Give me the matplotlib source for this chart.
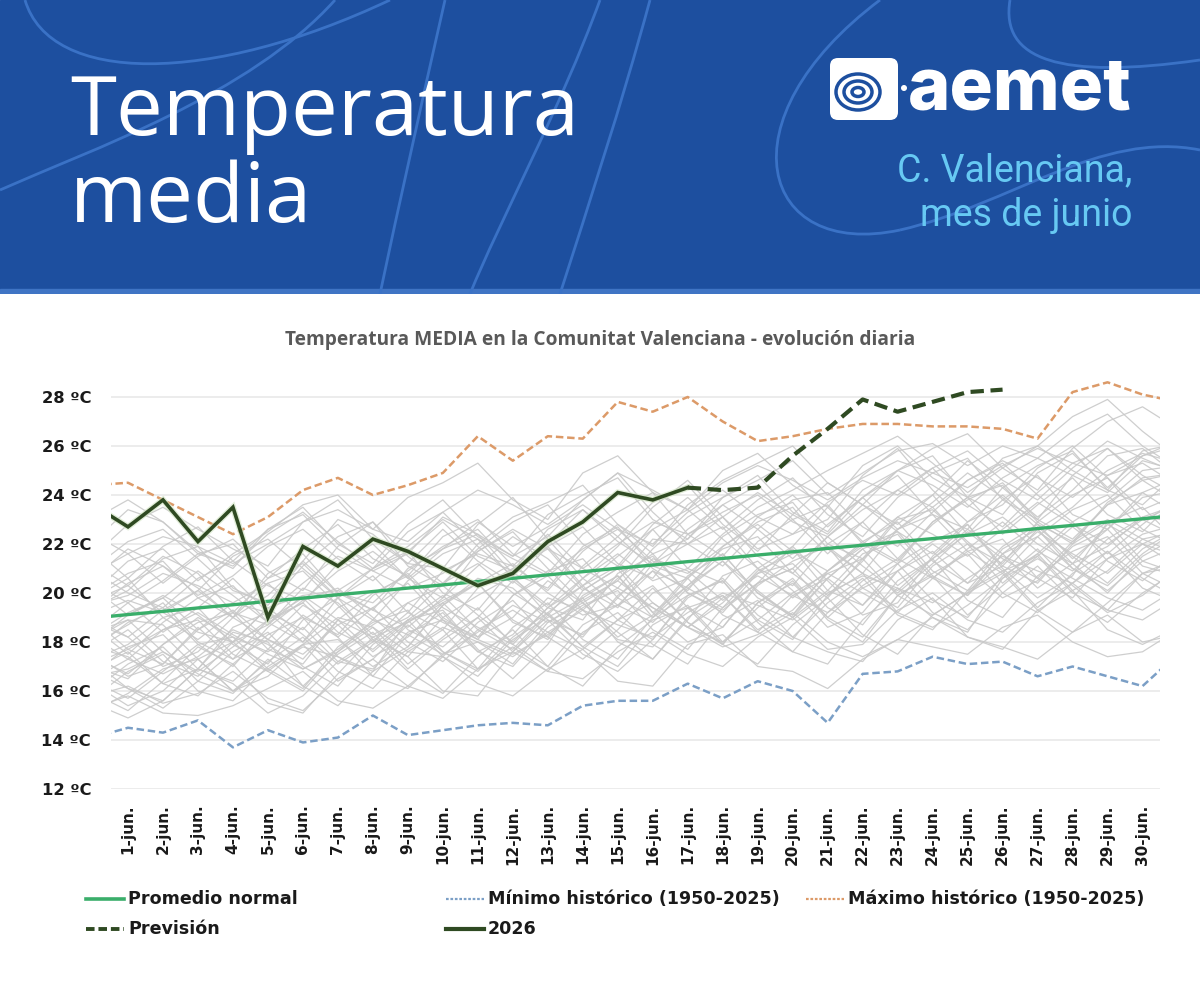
import matplotlib
matplotlib.use("Agg")
import matplotlib.pyplot as plt
from matplotlib.path import Path
from matplotlib.patches import PathPatch, Rectangle, FancyBboxPatch, Ellipse
from matplotlib.lines import Line2D
import matplotlib.patheffects as pe

# ---------------- data ----------------
# day index 0 = 31 May, 1..30 = June, 31 = 1 July (edges are clipped by the axis)
days = list(range(0, 32))
tick_days = list(range(1, 31))
tick_labels = [f"{d}-jun." for d in tick_days]
y_ticks = [12, 14, 16, 18, 20, 22, 24, 26, 28]
y_tick_labels = [f"{v} ºC" for v in y_ticks]

normal = [18.98, 19.12, 19.25, 19.39, 19.52, 19.66, 19.79, 19.93, 20.06, 20.20, 20.33,
          20.47, 20.60, 20.74, 20.87, 21.01, 21.14, 21.28, 21.41, 21.55, 21.68, 21.82,
          21.95, 22.09, 22.22, 22.36, 22.49, 22.63, 22.76, 22.90, 23.03, 23.17]

hist_max = [24.4, 24.5, 23.8, 23.1, 22.4, 23.1, 24.2, 24.7, 24.0, 24.4, 24.9, 26.4,
            25.4, 26.4, 26.3, 27.8, 27.4, 28.0, 27.0, 26.2, 26.4, 26.7, 26.9, 26.9,
            26.8, 26.8, 26.7, 26.3, 28.2, 28.6, 28.1, 27.8]

hist_min = [14.1, 14.5, 14.3, 14.8, 13.7, 14.4, 13.9, 14.1, 15.0, 14.2, 14.4, 14.6,
            14.7, 14.6, 15.4, 15.6, 15.6, 16.3, 15.7, 16.4, 16.0, 14.7, 16.7, 16.8,
            17.4, 17.1, 17.2, 16.6, 17.0, 16.6, 16.2, 17.5]

obs_days = list(range(0, 18))
obs_2026 = [23.6, 22.7, 23.8, 22.1, 23.5, 19.0, 21.9, 21.1, 22.2, 21.7, 21.0, 20.3,
            20.8, 22.1, 22.9, 24.1, 23.8, 24.3]

fc_days = list(range(17, 27))
forecast_2026 = [24.3, 24.2, 24.3, 25.6, 26.7, 27.9, 27.4, 27.8, 28.2, 28.3]

# individual years 1950-2025 (grey spaghetti)
historical_years = [
    [17.2, 16.1, 15.6, 16.9, 18.4, 18.0, 16.2, 15.4, 16.8, 18.9, 19.3, 17.7, 16.5, 17.9, 20.1, 21.0, 19.2, 18.0, 18.6, 20.4, 21.9, 20.5, 19.1, 19.6, 21.5, 22.8, 21.0, 19.8, 20.7, 22.9, 23.5, 22.1],
    [21.0, 22.1, 22.6, 21.4, 20.1, 19.6, 21.3, 23.0, 22.4, 21.2, 21.0, 22.8, 23.9, 22.2, 20.6, 21.9, 23.5, 24.6, 23.1, 21.8, 22.4, 23.0, 24.8, 25.9, 24.2, 22.9, 23.6, 25.1, 26.0, 24.7, 23.4, 24.0],
    [18.4, 18.9, 18.7, 17.3, 16.0, 16.6, 17.9, 18.1, 17.0, 17.8, 19.5, 20.6, 20.2, 18.9, 18.3, 19.8, 21.4, 20.9, 19.7, 20.8, 21.2, 19.9, 21.3, 23.0, 23.4, 22.1, 20.9, 21.5, 22.7, 21.6, 22.8, 23.9],
    [15.9, 15.2, 16.4, 17.8, 17.1, 15.5, 15.1, 16.7, 18.2, 17.4, 16.0, 15.8, 17.6, 18.9, 17.5, 16.8, 18.1, 19.9, 20.5, 18.8, 17.6, 17.1, 18.9, 20.2, 19.0, 18.4, 20.6, 21.8, 20.3, 19.2, 19.9, 21.0],
    [19.7, 20.3, 21.5, 20.8, 19.2, 18.7, 19.9, 20.1, 19.3, 18.6, 19.8, 21.7, 22.5, 21.0, 19.6, 20.5, 22.2, 22.0, 21.1, 22.6, 23.8, 24.1, 22.7, 21.9, 23.3, 24.6, 25.3, 24.0, 22.9, 23.8, 25.0, 25.2],
    [16.7, 17.8, 18.3, 16.9, 16.4, 17.7, 19.1, 18.2, 16.6, 16.1, 17.5, 18.0, 17.1, 18.8, 19.6, 18.4, 17.3, 18.9, 20.7, 21.3, 20.1, 18.6, 19.2, 20.9, 21.7, 20.4, 21.1, 22.6, 21.2, 20.0, 21.5, 22.3],
    [18.8, 18.2, 17.0, 17.6, 19.0, 20.4, 20.9, 19.5, 18.0, 19.2, 20.9, 21.6, 21.1, 22.4, 21.0, 20.2, 21.8, 23.1, 23.9, 24.6, 25.4, 24.0, 24.9, 25.8, 26.1, 25.2, 26.0, 25.5, 26.6, 27.3, 26.0, 25.1],
    [17.0, 16.5, 17.9, 19.0, 18.2, 17.6, 18.6, 17.2, 16.9, 18.4, 18.9, 17.6, 18.3, 19.8, 19.3, 18.1, 17.8, 19.4, 19.9, 18.5, 19.3, 20.8, 21.4, 19.9, 19.1, 20.0, 21.6, 22.3, 21.0, 20.1, 21.3, 21.9],
    [20.6, 21.8, 21.1, 19.9, 20.7, 21.9, 22.6, 21.4, 20.5, 21.7, 22.9, 21.5, 20.9, 22.6, 23.4, 22.3, 23.7, 24.4, 22.8, 21.7, 23.2, 24.5, 23.6, 22.8, 24.0, 25.4, 24.3, 23.1, 24.2, 25.6, 25.9, 24.8],
    [17.8, 17.4, 16.3, 16.9, 18.6, 19.2, 18.0, 19.4, 20.1, 18.5, 17.8, 19.0, 20.5, 19.4, 18.9, 20.8, 21.5, 20.0, 19.3, 20.4, 21.0, 22.3, 21.1, 20.0, 21.2, 22.5, 21.4, 20.6, 22.1, 23.0, 22.2, 21.6],
    [15.3, 15.8, 15.1, 15.0, 15.4, 16.1, 16.8, 15.6, 15.3, 16.2, 17.4, 16.3, 15.8, 16.9, 17.7, 16.4, 16.2, 17.9, 18.3, 17.0, 16.8, 16.1, 17.3, 18.1, 17.8, 17.5, 18.6, 19.1, 18.0, 17.4, 17.6, 18.5],
    [22.1, 23.4, 22.9, 21.7, 21.0, 22.6, 23.2, 21.8, 20.9, 21.6, 23.1, 22.4, 21.5, 22.3, 23.8, 24.9, 23.3, 22.0, 23.1, 24.1, 23.2, 22.4, 23.9, 25.0, 24.4, 23.5, 24.7, 25.5, 24.8, 24.1, 25.4, 25.0],
    [19.1, 19.7, 19.2, 18.4, 18.0, 19.4, 19.9, 18.9, 18.2, 18.8, 19.6, 20.4, 21.2, 20.0, 19.1, 19.5, 20.9, 20.2, 19.4, 20.9, 21.6, 21.9, 20.8, 20.1, 21.4, 22.4, 23.1, 22.0, 21.2, 21.9, 23.1, 23.6],
    [16.5, 17.3, 18.5, 18.9, 17.5, 16.8, 17.9, 19.0, 18.6, 17.6, 17.4, 18.8, 19.7, 18.2, 17.3, 18.5, 20.0, 20.6, 19.1, 18.4, 19.9, 20.6, 19.5, 20.9, 22.0, 21.0, 19.8, 20.5, 21.9, 22.6, 21.1, 20.7],
    [20.2, 19.1, 19.8, 20.9, 19.9, 18.8, 19.6, 21.2, 22.0, 20.6, 19.8, 21.1, 22.3, 21.4, 20.1, 21.0, 22.6, 23.4, 22.2, 21.0, 21.9, 23.5, 22.1, 21.3, 22.9, 23.8, 24.5, 23.0, 22.2, 23.6, 24.7, 24.9],
    [17.5, 16.6, 17.1, 18.6, 17.3, 18.1, 19.5, 18.7, 17.4, 18.2, 19.6, 18.2, 19.0, 20.5, 19.6, 18.2, 19.1, 20.7, 21.6, 20.0, 19.0, 20.6, 21.8, 20.3, 21.4, 22.6, 21.6, 20.2, 21.2, 22.8, 22.0, 21.1],
    [18.0, 19.1, 19.9, 19.1, 18.0, 18.7, 20.2, 19.6, 18.3, 19.0, 20.4, 21.2, 20.0, 19.1, 20.6, 21.6, 20.5, 21.0, 22.4, 23.5, 24.2, 25.0, 25.7, 26.4, 25.3, 24.1, 25.1, 26.0, 27.2, 27.9, 26.6, 25.5],
    [15.7, 16.8, 17.5, 16.0, 15.6, 17.0, 17.9, 16.4, 17.3, 18.7, 17.6, 16.8, 18.2, 19.2, 17.8, 18.9, 20.2, 18.8, 17.9, 19.6, 20.4, 19.0, 20.3, 21.2, 19.7, 19.0, 20.7, 21.6, 20.1, 20.9, 22.2, 22.5],
    [21.2, 20.3, 19.2, 20.1, 21.5, 22.2, 21.0, 19.8, 21.0, 22.5, 23.3, 21.9, 20.7, 22.0, 23.4, 22.1, 21.2, 22.6, 23.6, 24.4, 23.0, 21.6, 22.9, 24.2, 25.1, 23.6, 22.7, 24.1, 25.3, 25.9, 24.8, 24.0],
    [18.1, 18.9, 17.6, 16.8, 17.8, 18.9, 19.8, 18.4, 17.7, 18.9, 19.9, 18.5, 17.7, 19.2, 20.3, 21.1, 19.6, 18.6, 19.6, 21.0, 19.8, 20.9, 22.1, 22.9, 21.3, 20.4, 21.9, 22.8, 21.4, 22.6, 23.9, 24.2],
    [16.3, 15.4, 16.0, 17.3, 18.0, 16.8, 16.0, 17.6, 18.6, 17.1, 18.2, 19.4, 17.9, 17.0, 18.7, 19.5, 20.3, 18.8, 17.9, 19.6, 20.6, 19.0, 18.2, 19.9, 20.8, 21.6, 20.0, 19.2, 20.4, 21.7, 20.6, 19.8],
    [19.3, 20.4, 21.1, 20.2, 19.0, 19.9, 21.3, 20.0, 19.6, 20.9, 21.9, 22.6, 21.1, 20.1, 21.7, 22.8, 21.6, 22.2, 23.6, 22.6, 21.4, 22.8, 23.9, 22.6, 23.7, 24.9, 23.9, 22.6, 23.5, 24.8, 25.3, 24.4],
    [21.5, 22.8, 23.5, 22.6, 21.8, 21.1, 22.9, 23.8, 22.2, 21.2, 22.6, 21.3, 20.4, 21.9, 22.7, 21.2, 20.6, 22.4, 23.1, 21.5, 20.8, 22.3, 23.6, 22.5, 21.6, 22.9, 24.0, 22.8, 22.1, 23.6, 24.1, 23.2],
    [17.7, 18.8, 19.4, 17.9, 17.0, 18.6, 19.7, 20.2, 19.0, 17.8, 19.5, 20.4, 18.9, 18.1, 19.8, 20.7, 19.2, 20.3, 21.6, 20.0, 19.1, 20.6, 21.8, 22.4, 20.7, 19.9, 21.6, 22.7, 21.5, 20.4, 21.8, 22.6],
    [18.9, 17.7, 17.1, 18.5, 19.3, 18.1, 17.3, 18.9, 20.0, 20.7, 19.0, 18.1, 19.9, 20.9, 21.4, 19.8, 19.0, 20.6, 21.8, 22.3, 20.8, 19.8, 21.4, 22.6, 23.2, 21.7, 20.8, 22.3, 23.4, 24.0, 22.6, 21.9],
    [16.9, 17.6, 16.3, 15.8, 17.1, 18.3, 19.0, 17.4, 16.6, 18.3, 19.2, 17.6, 17.0, 18.6, 19.5, 20.1, 18.5, 17.7, 19.4, 20.4, 21.0, 19.4, 18.7, 20.5, 21.4, 19.7, 19.0, 20.7, 21.7, 22.3, 20.8, 20.1],
    [20.8, 21.6, 20.4, 21.5, 22.2, 20.9, 20.1, 21.9, 22.9, 21.5, 20.4, 21.8, 22.9, 23.6, 22.0, 21.1, 22.8, 23.9, 22.6, 23.8, 24.7, 23.2, 22.3, 23.9, 24.9, 25.5, 23.8, 23.0, 24.8, 25.9, 24.6, 23.7],
    [15.5, 14.9, 15.6, 16.9, 16.3, 15.1, 15.8, 17.2, 18.1, 16.8, 15.9, 17.4, 18.5, 17.0, 16.2, 17.8, 18.9, 19.4, 17.9, 17.1, 18.7, 19.8, 18.3, 17.5, 19.1, 20.0, 20.8, 19.3, 18.4, 19.6, 20.8, 21.1],
    [19.8, 20.6, 19.0, 18.1, 19.2, 20.6, 21.2, 19.8, 18.9, 20.5, 21.6, 22.2, 20.6, 19.5, 21.1, 22.3, 21.0, 20.1, 21.9, 22.9, 23.5, 21.8, 20.8, 22.6, 23.5, 22.0, 21.2, 22.9, 24.0, 24.7, 23.0, 22.3],
    [17.3, 17.9, 19.0, 19.4, 17.9, 17.1, 18.9, 19.8, 18.1, 17.4, 19.0, 19.9, 20.7, 19.1, 18.2, 19.9, 20.9, 19.4, 18.6, 20.3, 21.3, 21.9, 20.2, 19.4, 21.1, 22.0, 20.4, 21.6, 22.9, 21.3, 20.5, 21.7],
    [18.6, 17.5, 18.8, 19.8, 20.3, 18.8, 18.0, 19.8, 20.7, 19.2, 18.5, 20.2, 21.0, 21.8, 20.2, 19.4, 21.2, 22.0, 22.7, 21.0, 20.3, 22.0, 22.9, 21.4, 22.8, 23.9, 24.4, 22.9, 22.0, 23.7, 24.6, 24.9],
    [19.4, 20.1, 21.4, 21.9, 20.2, 19.5, 21.1, 22.3, 22.9, 21.1, 20.3, 22.0, 23.1, 23.7, 24.4, 22.8, 21.9, 23.6, 24.6, 25.3, 26.0, 24.5, 23.6, 25.0, 25.9, 26.5, 25.1, 24.2, 25.9, 27.0, 27.6, 26.7],
    [16.8, 16.1, 15.3, 16.4, 17.6, 18.4, 17.0, 16.2, 17.9, 18.9, 17.4, 16.6, 18.1, 19.0, 19.8, 18.0, 17.3, 19.0, 19.9, 18.4, 17.6, 19.2, 20.2, 20.9, 19.2, 18.5, 20.0, 21.1, 19.7, 18.8, 20.0, 20.9],
    [20.4, 19.6, 20.5, 21.6, 22.0, 20.6, 21.8, 22.8, 21.4, 20.7, 22.3, 23.0, 21.6, 20.8, 22.4, 23.3, 24.1, 22.4, 21.5, 23.1, 24.0, 22.7, 23.9, 24.8, 23.2, 22.6, 24.3, 25.2, 25.8, 24.2, 23.6, 24.9],
    [17.9, 18.7, 19.6, 18.0, 17.3, 18.9, 19.6, 18.2, 19.4, 20.4, 18.9, 18.2, 19.9, 20.7, 19.3, 20.6, 21.6, 20.0, 19.2, 20.8, 21.8, 20.1, 19.5, 21.2, 22.1, 22.8, 21.1, 20.4, 22.0, 22.9, 21.3, 20.8],
    [15.2, 15.9, 16.9, 17.3, 16.0, 17.2, 18.2, 16.8, 16.1, 17.6, 18.5, 16.9, 17.6, 19.1, 17.8, 17.0, 18.7, 19.5, 18.0, 19.4, 20.5, 18.9, 18.0, 19.9, 20.7, 19.1, 20.3, 21.5, 20.0, 19.3, 20.8, 21.4],
    [18.5, 19.6, 18.4, 19.4, 20.6, 19.2, 18.5, 20.1, 21.0, 21.7, 20.0, 19.3, 21.0, 21.9, 20.3, 21.5, 22.6, 21.0, 20.4, 22.1, 23.0, 23.6, 22.0, 21.2, 22.9, 23.9, 22.4, 23.6, 24.7, 23.2, 22.5, 23.9],
    [16.0, 17.1, 17.8, 16.4, 15.9, 17.3, 16.2, 17.5, 18.4, 16.9, 18.1, 19.0, 17.6, 16.8, 18.4, 19.2, 17.9, 17.1, 18.9, 19.7, 18.2, 19.6, 20.6, 19.1, 18.5, 20.1, 20.9, 19.4, 20.8, 21.7, 20.2, 19.6],
    [21.8, 20.6, 21.9, 22.7, 21.3, 22.6, 23.5, 22.0, 21.2, 22.8, 23.8, 22.3, 21.5, 23.2, 24.0, 24.7, 23.0, 22.2, 23.9, 24.8, 23.3, 22.5, 24.2, 25.0, 25.6, 23.9, 23.2, 24.9, 25.7, 24.3, 25.6, 26.2],
    [17.4, 16.7, 17.9, 18.8, 19.2, 17.7, 17.1, 18.9, 17.6, 18.8, 19.7, 20.4, 18.8, 18.2, 19.9, 20.7, 19.0, 20.3, 21.3, 19.8, 19.1, 20.9, 21.9, 22.5, 20.9, 20.1, 21.8, 22.6, 21.0, 20.3, 21.6, 22.6],
    [18.3, 19.2, 19.8, 18.5, 19.6, 20.4, 19.0, 18.3, 19.9, 20.8, 19.4, 18.6, 17.9, 19.4, 20.3, 18.9, 18.1, 19.8, 20.6, 19.1, 18.2, 17.6, 17.2, 18.9, 19.8, 18.2, 17.7, 19.3, 20.1, 18.5, 17.9, 18.6],
    [19.9, 20.8, 21.3, 19.8, 19.0, 20.8, 21.6, 20.0, 19.3, 21.0, 21.8, 22.4, 20.8, 20.2, 21.9, 22.7, 21.1, 20.6, 22.3, 23.2, 23.7, 22.0, 21.4, 23.1, 24.0, 22.4, 23.8, 24.8, 23.2, 22.6, 24.1, 24.7],
    [16.4, 15.7, 16.8, 17.9, 18.2, 16.9, 16.1, 17.8, 18.8, 19.3, 17.6, 16.9, 18.6, 19.6, 18.1, 17.3, 19.0, 19.9, 20.5, 18.9, 18.1, 19.9, 20.8, 19.2, 20.6, 21.7, 22.2, 20.6, 19.8, 21.4, 22.4, 22.8],
    [20.0, 21.3, 21.8, 20.5, 21.6, 22.5, 23.6, 24.0, 22.6, 23.9, 24.5, 25.3, 23.8, 23.0, 24.9, 25.6, 24.1, 23.4, 25.0, 25.7, 24.4, 23.5, 25.2, 26.0, 24.7, 23.9, 25.5, 26.0, 25.0, 24.2, 25.8, 26.1],
    [19.0, 18.2, 19.3, 20.1, 19.0, 18.1, 17.5, 18.7, 19.4, 18.0, 17.2, 18.5, 19.3, 18.4, 17.7, 18.9, 19.6, 18.6, 17.8, 18.3, 19.2, 18.0, 17.4, 18.1, 19.0, 18.2, 17.8, 17.3, 18.4, 19.1, 18.0, 18.3],
    [23.0, 23.8, 22.9, 21.6, 21.1, 22.4, 23.3, 22.1, 21.0, 21.9, 23.0, 22.2, 21.4, 20.7, 21.8, 22.6, 21.3, 20.8, 21.9, 22.8, 21.7, 20.9, 22.0, 23.1, 22.4, 21.5, 22.6, 23.7, 22.8, 22.0, 23.0, 23.6],
    [17.6, 18.5, 17.2, 16.6, 18.0, 19.4, 18.3, 17.1, 18.0, 19.6, 20.3, 19.1, 18.0, 19.4, 20.6, 19.5, 18.8, 20.2, 21.3, 20.1, 19.0, 20.1, 21.6, 22.1, 20.6, 19.9, 21.3, 22.5, 21.6, 20.8, 22.0, 22.7],
    [15.8, 16.2, 15.5, 15.9, 16.8, 15.7, 15.2, 16.5, 17.3, 16.2, 15.7, 16.9, 17.8, 16.8, 16.5, 17.6, 18.4, 17.5, 17.0, 18.2, 19.0, 17.7, 17.9, 19.3, 20.0, 18.9, 18.4, 19.6, 20.4, 19.3, 18.9, 19.8],
    [20.9, 20.0, 19.4, 20.6, 21.3, 20.3, 19.7, 20.9, 21.7, 20.6, 21.8, 22.9, 21.9, 22.7, 23.6, 22.6, 22.0, 23.3, 24.2, 23.1, 22.4, 23.7, 24.6, 24.0, 25.1, 25.8, 24.6, 23.8, 25.1, 26.2, 25.5, 24.9],
    [18.2, 17.3, 16.7, 17.4, 18.5, 17.9, 16.9, 17.6, 18.9, 18.3, 17.5, 18.4, 19.5, 18.8, 19.7, 20.5, 19.4, 18.6, 19.8, 20.7, 19.9, 19.2, 20.5, 21.4, 20.6, 21.8, 22.9, 21.7, 20.9, 22.2, 23.1, 22.9],
    [19.5, 19.9, 20.8, 20.3, 19.6, 19.2, 20.4, 21.5, 20.9, 20.2, 20.8, 21.7, 22.6, 21.8, 21.0, 22.0, 22.9, 22.4, 23.3, 24.0, 22.9, 22.3, 23.4, 24.2, 23.5, 24.6, 25.4, 24.7, 23.9, 25.0, 25.7, 25.3],
    [16.6, 16.9, 17.6, 16.7, 16.0, 16.9, 17.8, 17.4, 16.8, 17.7, 18.6, 18.0, 17.4, 18.4, 19.3, 18.7, 18.2, 19.2, 20.0, 19.5, 18.9, 20.0, 20.7, 20.2, 19.6, 20.6, 21.5, 20.9, 20.4, 21.4, 22.0, 21.5],
    [22.4, 21.6, 22.3, 21.9, 21.2, 22.0, 22.9, 23.4, 22.6, 22.1, 23.3, 24.2, 23.6, 22.8, 23.8, 24.9, 24.2, 23.4, 24.5, 25.2, 24.6, 23.8, 24.7, 25.4, 24.9, 24.3, 25.2, 25.9, 25.3, 24.8, 25.6, 26.0],
    [17.1, 17.7, 18.5, 19.2, 18.3, 17.5, 16.9, 17.7, 18.7, 19.6, 18.8, 18.1, 17.5, 18.3, 19.4, 20.2, 19.4, 18.6, 18.0, 18.9, 20.0, 20.8, 20.0, 19.2, 18.6, 19.5, 20.6, 21.4, 20.6, 19.8, 19.3, 20.2],
]

# ---------------- styles ----------------
W, H = 1200, 1000
BANNER = "#1d4f9f"
DECO = "#3a72c6"
GREEN_NORMAL = "#3aae6a"
DARK_GREEN = "#2f4a22"
MAX_C = "#dc9a68"
MIN_C = "#7b9fc6"
GREY = "#c9c9c9"

fig = plt.figure(figsize=(12, 10), dpi=100)
fig.patch.set_facecolor("white")

# ---------------- header banner ----------------
hdr = fig.add_axes([0, 1 - 294 / H, 1, 294 / H])
hdr.set_xlim(0, W)
hdr.set_ylim(294, 0)
hdr.axis("off")
hdr.add_patch(Rectangle((0, 0), W, 294, color=BANNER, zorder=0))
hdr.add_patch(Rectangle((0, 289), W, 5, color="#3f74c4", zorder=1))

deco_curves = [
    [(25, 0), (50, 85), (210, 85), (390, 0)],
    [(0, 190), (90, 150), (250, 95), (335, 0)],
    [(445, 0), (420, 110), (400, 200), (380, 294)],
    [(600, 0), (560, 110), (500, 220), (470, 294)],
    [(650, 0), (620, 110), (590, 200), (560, 294)],
    [(880, 0), (720, 120), (760, 260), (900, 230)],
    [(900, 230), (1010, 205), (1100, 130), (1200, 150)],
    [(1010, 0), (1000, 60), (1060, 80), (1200, 60)],
]
for pts in deco_curves:
    path = Path(pts, [Path.MOVETO, Path.CURVE4, Path.CURVE4, Path.CURVE4])
    hdr.add_patch(PathPatch(path, facecolor="none", edgecolor=DECO, lw=2, zorder=2))

hdr.text(70, 135, "Temperatura", color="white", fontsize=60, family="Open Sans",
         va="baseline", ha="left", zorder=5)
hdr.text(70, 222, "media", color="white", fontsize=60, family="Open Sans",
         va="baseline", ha="left", zorder=5)

# logo (simplified)
hdr.add_patch(FancyBboxPatch((832, 60), 64, 58, boxstyle="round,pad=2,rounding_size=8",
                             facecolor="white", edgecolor="none", zorder=5))
for (cx, cy, w_, h_) in [(858, 92, 44, 36), (858, 92, 28, 22), (858, 92, 12, 9)]:
    hdr.add_patch(Ellipse((cx, cy), w_, h_, facecolor="none", edgecolor=BANNER, lw=2.5, zorder=6))
hdr.add_patch(Ellipse((904, 88), 6, 6, facecolor="white", edgecolor="none", zorder=6))
hdr.text(1132, 110, "aemet", color="white", fontsize=52, family="Inter", fontweight="heavy",
         ha="right", va="baseline", zorder=5)
hdr.text(1132, 181, "C. Valenciana,", color="#67c9f3", fontsize=27, family="Roboto",
         ha="right", va="baseline", zorder=5)
hdr.text(1132, 226, "mes de junio", color="#67c9f3", fontsize=27, family="Roboto",
         ha="right", va="baseline", zorder=5)

# ---------------- chart ----------------
left_px, right_px, top_px, bottom_px = 110.5, 1160, 372.5, 789
ax = fig.add_axes([left_px / W, 1 - bottom_px / H, (right_px - left_px) / W,
                   (bottom_px - top_px) / H])
ax.set_xlim(0.5, 30.5)
ax.set_ylim(12, 29)
for s in ax.spines.values():
    s.set_visible(False)
ax.set_yticks(y_ticks)
ax.set_yticklabels(y_tick_labels, fontsize=11.8, fontweight="bold", color="#1a1a1a")
ax.set_xticks(tick_days)
ax.set_xticklabels(tick_labels, rotation=90, fontsize=11, fontweight="bold", color="#1a1a1a")
ax.tick_params(axis="both", length=0)
ax.tick_params(axis="y", pad=14)
ax.tick_params(axis="x", pad=11)
ax.grid(axis="y", color="#e9e9e9", lw=1.2)
ax.set_axisbelow(True)

for yr in historical_years:
    ax.plot(days, yr, color=GREY, lw=0.9, alpha=0.9, zorder=2)

ax.plot(days, hist_min, color=MIN_C, lw=1.8, ls=(0, (3, 1.5)), zorder=4)
ax.plot(days, hist_max, color=MAX_C, lw=1.8, ls=(0, (3, 1.5)), zorder=4)
ax.plot(days, normal, color=GREEN_NORMAL, lw=2.4, zorder=5)
glow = [pe.Stroke(linewidth=4.5, foreground="#cfe3c0", alpha=0.6), pe.Normal()]
ax.plot(obs_days, obs_2026, color=DARK_GREEN, lw=2.6, zorder=6, path_effects=glow,
        solid_joinstyle="miter")
ax.plot(fc_days, forecast_2026, color=DARK_GREEN, lw=3.0, ls=(0, (3.2, 1.6)), zorder=6)

fig.text(0.5, 1 - 340 / H, "Temperatura MEDIA en la Comunitat Valenciana - evolución diaria",
         ha="center", va="center", fontsize=13.8, fontweight="bold", color="#595959",
         family="Open Sans")

# ---------------- legend ----------------
lg = fig.add_axes([0, 0, 1, 1], facecolor="none")
lg.set_xlim(0, W)
lg.set_ylim(H, 0)
lg.axis("off")
legend_items = [
    (128, 899, GREEN_NORMAL, "-", 2.6, "Promedio normal"),
    (488, 899, MIN_C, (0, (1.2, 0.8)), 1.6, "Mínimo histórico (1950-2025)"),
    (848, 899, MAX_C, (0, (1.2, 0.8)), 1.6, "Máximo histórico (1950-2025)"),
    (128, 929, DARK_GREEN, (0, (2.2, 1.0)), 2.8, "Previsión"),
    (488, 929, DARK_GREEN, "-", 3.0, "2026"),
]
for tx, y0, c, ls, lw, lab in legend_items:
    lg.add_line(Line2D([tx - 42, tx - 4], [y0, y0], color=c, ls=ls, lw=lw))
    lg.text(tx, y0, lab, fontsize=12.6, fontweight="bold", color="#1a1a1a",
            va="center", ha="left")

fig.savefig("out.png", dpi=100, facecolor="white")
